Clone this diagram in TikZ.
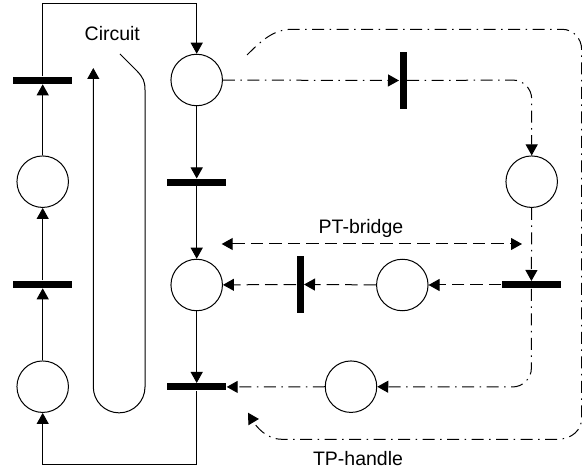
\documentclass[tikz,border=0pt]{standalone}
\usepackage{fontspec}
\setmainfont{Liberation Sans}
\usetikzlibrary{arrows.meta}
\begin{document}
\begin{tikzpicture}[x=1pt,y=-1pt,
  every path/.style={line width=1pt},
  place/.style={circle,draw,line width=1pt,minimum size=51.5pt,inner sep=0pt},
  hbar/.style={rectangle,fill=black,draw=none,minimum width=59pt,minimum height=7pt,inner sep=0pt},
  vbar/.style={rectangle,fill=black,draw=none,minimum width=7pt,minimum height=57pt,inner sep=0pt},
  arr/.style={-{Triangle[length=11pt,width=12pt]}},
  darr/.style={{Triangle[length=11pt,width=12pt]}-{Triangle[length=11pt,width=12pt]}},
  dd/.style={dash pattern=on 12pt off 5.5pt on 1.5pt off 5.5pt},
  dsh/.style={dash pattern=on 12.5pt off 6pt},
  lbl/.style={font=\fontsize{19.5}{22}\selectfont,inner sep=0pt}]
\useasboundingbox (0,0) rectangle (582,470);
% left column
\node[hbar] (bL1) at (42.7,80.3) {};
\node[place] (cL1) at (42.7,181.7) {};
\node[hbar] (bL2) at (42.7,284.3) {};
\node[place] (cL2) at (42.7,386.7) {};
% right column
\node[place] (cR1) at (196.7,80) {};
\node[hbar] (bR1) at (196.7,182.5) {};
\node[place] (cR2) at (196.7,285) {};
\node[hbar] (bR2) at (196.7,387) {};
% right part
\node[vbar] (bT) at (403,80.5) {};
\node[place] (cRR) at (531.7,181.7) {};
\node[hbar] (bRR) at (531.4,285) {};
\node[place] (cM) at (402.3,285) {};
\node[vbar] (bV) at (300,284.5) {};
\node[place] (cB) at (351,386.7) {};
% coordinates
\coordinate (tl) at (42.7,4);
\coordinate (tr) at (196.7,4);
\coordinate (bl) at (42.7,464.3);
\coordinate (br) at (196.7,464.3);
% circuit
\draw[arr] (cL2) -- (bL2);
\draw[arr] (bL2) -- (cL1);
\draw[arr] (cL1) -- (bL1);
\draw[arr] (bL1) -- (tl) -- (tr) -- (cR1);
\draw[arr] (cR1) -- (bR1);
\draw[arr] (bR1) -- (cR2);
\draw[arr] (cR2) -- (bR2);
\draw[arr] (bR2) -- (br) -- (bl) -- (cL2);
% circuit loop
\coordinate (lpS) at (120,54);
\coordinate (lpE) at (93.3,68);
\draw[arr] (lpS) -- (137,71) .. controls (143,77.5) and (145,81) .. (145,90) -- (145,387)
  arc[start angle=0,end angle=180,radius=25.85] -- (lpE);
\node[lbl] (circuit) at (112.3,34) {Circuit};
% dash-dot path
\coordinate (k1) at (531.7,80);
\coordinate (k2) at (531.4,387);
\draw[dd,arr] (cR1) -- (bT);
\draw[dd,arr,rounded corners=19pt] (bT) -- (k1) -- (cRR);
\draw[dd,arr] (cRR) -- (bRR);
\draw[dd,arr,rounded corners=19pt] (bRR) -- (k2) -- (cB);
\draw[dd,arr] (cB) -- (bR2);
% dashed path
\draw[dsh,arr] (bRR) -- (cM);
\draw[dsh,arr] (cM) -- (bV);
\draw[dsh,arr] (bV) -- (cR2);
% PT-bridge
\coordinate (ptA) at (221.7,244);
\coordinate (ptB) at (522,244);
\draw[dsh,darr] (ptA) -- (ptB);
\node[lbl] (pt) at (361,228) {PT-bridge};
% TP-handle
\coordinate (tpS) at (247,55);
\coordinate (tpE) at (248,412.7);
\draw[dd,arr] (tpS) .. controls (262,40) and (274,29.3) .. (292,29.3) -- (562,29.3)
  .. controls (573,29.3) and (581.7,38) .. (581.7,50) -- (581.7,418)
  .. controls (581.7,430) and (572,439.3) .. (557,439.3) -- (282,439.3)
  .. controls (266,439.3) and (256,426) .. (tpE);
\node[lbl] (tp) at (358,459) {TP-handle};
\end{tikzpicture}
\end{document}
